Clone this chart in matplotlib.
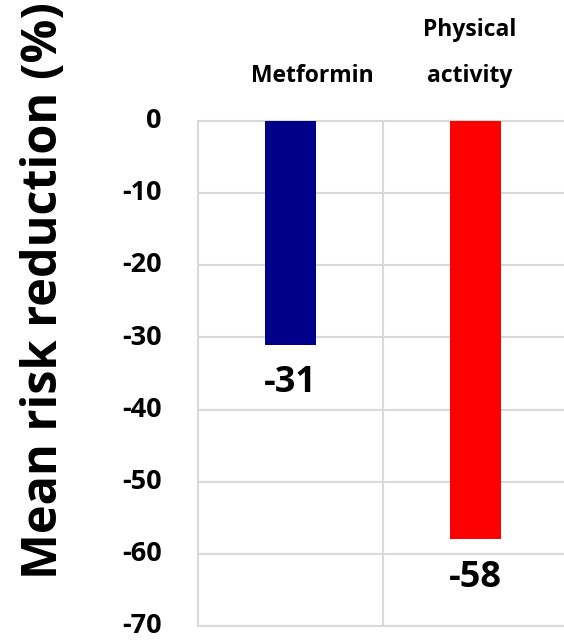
"""Bar chart of mean risk reduction: metformin vs physical activity."""

import matplotlib

matplotlib.use("Agg")
import matplotlib.pyplot as plt  # noqa: E402
import matplotlib.transforms as mtransforms  # noqa: E402

plt.rcParams["font.family"] = ["Open Sans", "DejaVu Sans"]
plt.rcParams["font.weight"] = "bold"

categories = ["Metformin", "Physical\nactivity"]
reductions = [-31, -58]
bar_colors = ["#00008B", "#FF0000"]
y_ticks = [0, -10, -20, -30, -40, -50, -60, -70]

GRID = "#D9D9D9"

fig = plt.figure(figsize=(5.64, 6.41), dpi=100)
ax = fig.add_axes([0.3511, 0.0234, 0.656, 0.788])

xs = list(range(len(categories)))
ax.bar(xs, reductions, width=0.276, color=bar_colors, zorder=3)

ax.set_xlim(-0.5, len(categories) - 0.5)
ax.set_ylim(-70, 0)
ax.set_yticks(y_ticks)
ax.set_yticklabels([str(t) for t in y_ticks], fontsize=19.5, fontweight="bold")
ax.tick_params(axis="y", length=0, pad=26)
ax.set_xticks([])
# nudge tick labels up a touch so the lowest one stays inside the figure
lift = mtransforms.ScaledTranslation(0, 2 / 72, fig.dpi_scale_trans)
for lbl in ax.get_yticklabels():
    lbl.set_transform(lbl.get_transform() + lift)

# horizontal gridlines plus a divider between the two categories
ax.yaxis.grid(True, color=GRID, linewidth=1.5, zorder=0)
for x in [i + 0.5 for i in xs[:-1]]:
    ax.axvline(x, color=GRID, linewidth=1.5, zorder=0)
for side in ["left", "right", "top", "bottom"]:
    ax.spines[side].set_color(GRID)
    ax.spines[side].set_linewidth(1.5)

# category names sit above the plot
trans = mtransforms.blended_transform_factory(ax.transData, ax.transAxes)
label_shift = [0.12, -0.03]
for x, name, dx in zip(xs, categories, label_shift):
    ax.text(x + dx, 1.066, name, transform=trans, ha="center", va="bottom",
            fontsize=16.5, fontweight="bold", linespacing=2.2)

# value labels just below each bar
for x, v in zip(xs, reductions):
    ax.annotate(str(v), (x, v), xytext=(0, -28), textcoords="offset points",
                ha="center", va="center", fontsize=26, fontweight="bold")

ax.set_ylabel("Mean risk reduction (%)", fontsize=35, fontweight="bold")
ax.yaxis.set_label_coords(-0.35, 0.665)

fig.savefig("out.png", dpi=100)
